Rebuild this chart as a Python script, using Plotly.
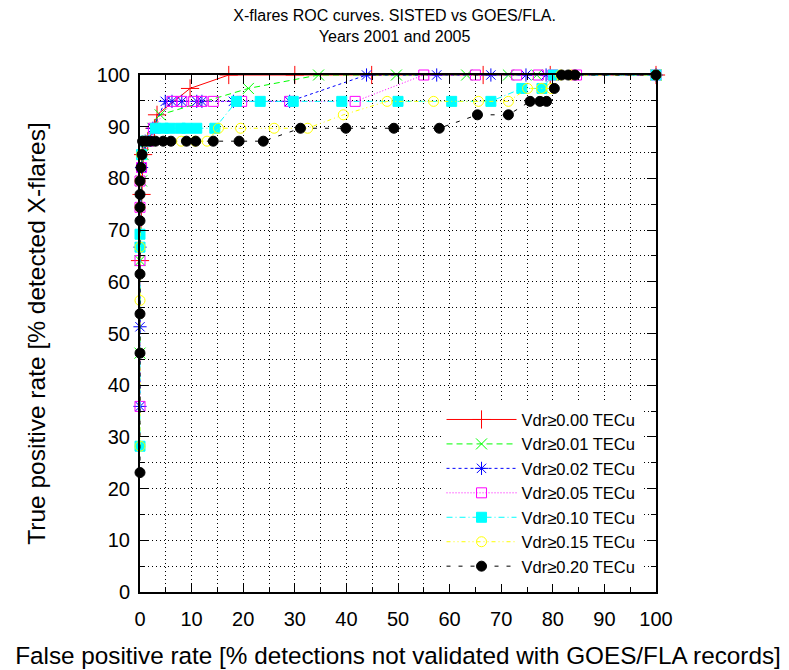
import plotly.graph_objects as go

# ---- data ----
names = ["Vdr≥0.00 TECu", "Vdr≥0.01 TECu", "Vdr≥0.02 TECu", "Vdr≥0.05 TECu",
         "Vdr≥0.10 TECu", "Vdr≥0.15 TECu", "Vdr≥0.20 TECu"]

x_000 = [0, 0.3, 0.6, 1.5, 2.8, 3.3, 9.7, 17.2, 30.0, 44.9, 66.5, 79.5, 100]
y_000 = [64.1, 76.9, 84.6, 87.2, 89.7, 92.3, 97.4, 100, 100, 100, 100, 100, 100]

x_001 = [0, 0, 0.3, 0.6, 1.5, 2.5, 3.9, 21.0, 34.6, 49.7, 63.3, 71.4, 76.9, 100]
y_001 = [46.2, 64.1, 79.5, 84.6, 87.2, 89.7, 92.3, 97.4, 100, 100, 100, 100, 100, 100]

x_002 = [0, 0, 0, 0.3, 1.0, 2.5, 4.9, 6.2, 8.1, 11.0, 12.0, 18.1, 29.0, 43.9, 57.5, 68.0, 74.8, 78.7, 100]
y_002 = [35.9, 51.3, 66.7, 82.1, 87.2, 89.7, 94.9, 94.9, 94.9, 94.9, 94.9, 94.9, 94.9, 100, 100, 100, 100, 100, 100]

x_005 = [0, 0, 0, 0, 0.3, 1.6, 2.6, 6.2, 8.1, 10.4, 12.0, 14.2, 19.7, 29.0, 41.7, 55.0, 65.0, 73.0, 77.2, 80.0, 84.6, 100]
y_005 = [35.9, 64.1, 74.4, 79.5, 82.1, 87.2, 89.7, 94.9, 94.9, 94.9, 94.9, 94.9, 94.9, 94.9, 94.9, 100, 100, 100, 100, 100, 100, 100]

x_010 = [0, 0, 0, 0.3, 1.0, 3.0, 4.5, 5.8, 7.8, 9.1, 11.0, 14.5, 18.7, 23.3, 29.7, 39.1, 50.0, 60.4, 68.0, 74.0, 77.9, 80.1, 100]
y_010 = [28.2, 66.7, 69.2, 84.6, 87.2, 89.7, 89.7, 89.7, 89.7, 89.7, 89.7, 89.7, 94.9, 94.9, 94.9, 94.9, 94.9, 94.9, 94.9, 97.4, 97.4, 100, 100]

x_015 = [0, 0, 0, 0, 0, 0.3, 1.0, 8.0, 10.7, 13.0, 15.2, 19.5, 26.0, 32.5, 39.4, 47.9, 56.9, 65.6, 71.4, 75.1, 77.8, 79.7, 81.5, 83.5, 100]
y_015 = [28.2, 56.4, 66.7, 74.4, 79.5, 84.6, 87.2, 87.2, 87.2, 87.2, 89.7, 89.7, 89.7, 89.7, 92.3, 94.9, 94.9, 94.9, 94.9, 97.4, 97.4, 97.4, 100, 100, 100]

x_020 = [0, 0, 0, 0, 0, 0, 0, 0, 0.2, 0.4, 0.5, 1.2, 2.0, 3.0, 4.5, 6.0, 9.0, 10.8, 14.2, 19.2, 23.9,
         31.1, 39.9, 49.2, 58.0, 65.4, 71.4, 75.6, 77.5, 78.8, 80.3, 81.7, 83.0, 84.3, 100]
y_020 = [23.1, 46.2, 53.8, 61.5, 71.8, 74.4, 76.9, 79.5, 82.1, 84.6, 87.2, 87.2, 87.2, 87.2, 87.2, 87.2, 87.2, 87.2, 87.2, 87.2, 87.2,
         89.7, 89.7, 89.7, 89.7, 92.3, 92.3, 94.9, 94.9, 94.9, 97.4, 100, 100, 100, 100]

xs = [x_000, x_001, x_002, x_005, x_010, x_015, x_020]
ys = [y_000, y_001, y_002, y_005, y_010, y_015, y_020]

x_ticks = [0, 10, 20, 30, 40, 50, 60, 70, 80, 90, 100]
y_ticks = [0, 10, 20, 30, 40, 50, 60, 70, 80, 90, 100]

# ---- styles ----
colors = ["#ff0000", "#00ff00", "#0000ff", "#ff00ff", "#00ffff", "#ffff00", "#000000"]
dashes = ["solid", "6px,4px", "3px,3px", "1px,2px", "6px,3px,1px,3px", "4px,3px,1px,3px,1px,3px", "4px,8px"]
symbols = ["cross-thin-open", "x-thin-open", "asterisk-open", "square-open", "square", "circle-open", "circle"]
msizes = [13, 11, 11, 10, 10, 10, 10]

fig = go.Figure()
for i in range(len(names)):
    fig.add_trace(go.Scatter(
        x=xs[i], y=ys[i], name=names[i], mode="lines+markers",
        legendgroup=f"g{i}",
        line=dict(color=colors[i], width=1, dash=dashes[i]),
        marker=dict(symbol=symbols[i], size=msizes[i], color=colors[i],
                    line=dict(color=colors[i], width=1)),
        cliponaxis=False,
    ))

axis_common = dict(
    range=[0, 100], showline=True, linecolor="black", linewidth=2, mirror="allticks",
    ticks="inside", ticklen=9, tickwidth=1, tickcolor="black",
    showgrid=True, gridcolor="black", gridwidth=1, griddash="1px,3px",
    zeroline=False, tickfont=dict(size=20, color="black"), automargin=False,
    minor=dict(dtick=5, ticks="inside", ticklen=5, tickcolor="black",
               showgrid=True, gridcolor="black", gridwidth=1, griddash="1px,3px"),
)

fig.update_layout(
    width=789, height=670,
    margin=dict(l=132, r=141, t=67, b=86),
    paper_bgcolor="white", plot_bgcolor="white",
    font=dict(family="Liberation Sans, Arial, sans-serif", color="black"),
    title=dict(text="X-flares ROC curves. SISTED vs GOES/FLA.<br>Years 2001 and 2005",
               x=0.49, xanchor="center", y=0.981, yanchor="top",
               font=dict(size=16), automargin=False),
    xaxis=dict(axis_common, tickvals=x_ticks, ticklabelstandoff=8,
               title=dict(text="False positive rate [% detections not validated with GOES/FLA records]",
                          font=dict(size=24.3), standoff=18)),
    yaxis=dict(axis_common, tickvals=y_ticks, ticklabelstandoff=4,
               title=dict(text="True positive rate [% detected X-flares]",
                          font=dict(size=24.5), standoff=44)),
    legend=dict(x=0.97, xanchor="right", y=0.015, yanchor="bottom",
                bgcolor="white", borderwidth=0, font=dict(size=16.5),
                itemwidth=70, tracegroupgap=0, traceorder="grouped"),
    showlegend=True,
)

fig.write_html("out.html")
